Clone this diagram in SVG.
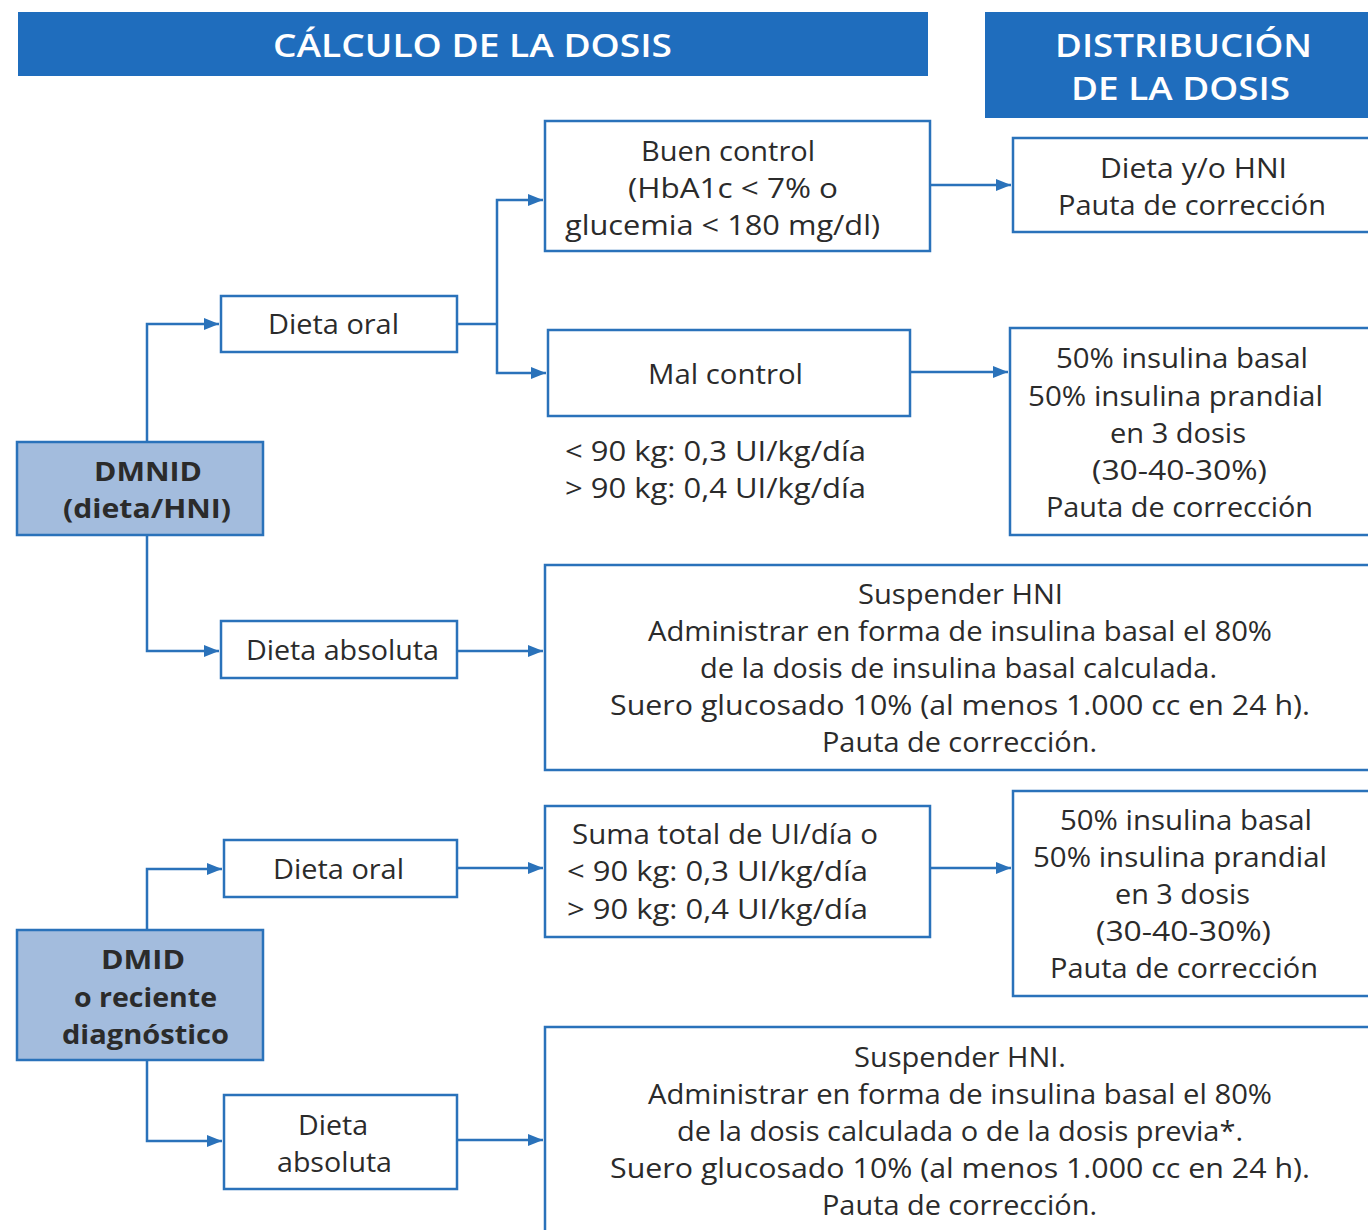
<svg xmlns="http://www.w3.org/2000/svg" width="1368" height="1230" viewBox="0 0 1368 1230">
  <style>
    .hdr { fill: #1f6dbd; }
    .hdrt { fill: #ffffff; font-family: "Open Sans", "Liberation Sans", sans-serif; font-size: 33px; font-weight: 600; }
    .box { fill: #ffffff; stroke: #2a72ba; stroke-width: 2.5; }
    .key { fill: #a3bcdd; stroke: #2a72ba; stroke-width: 2.5; }
    .t { fill: #2b2b2b; font-family: "Open Sans", "Liberation Sans", sans-serif; font-size: 27px; }
    .tb { fill: #2b2b2b; font-family: "Open Sans", "Liberation Sans", sans-serif; font-size: 27px; font-weight: 700; }
    .ln { fill: none; stroke: #2a72ba; stroke-width: 2.5; }
    .arr { fill: none; stroke: #2a72ba; stroke-width: 2.5; marker-end: url(#ah); }
  </style>
  <defs>
    <marker id="ah" viewBox="0 0 10 10" refX="10" refY="5" markerWidth="6" markerHeight="6" markerUnits="strokeWidth" orient="auto">
      <path d="M0,1 L10,5 L0,9 Z" fill="#2a72ba"/>
    </marker>
  </defs>
  <rect width="1368" height="1230" fill="#ffffff"/>

  <!-- column headers -->
  <g id="hdr-calculo">
    <rect class="hdr" x="18" y="12" width="910" height="64"/>
    <text class="hdrt" x="273" y="57" textLength="399" lengthAdjust="spacingAndGlyphs">CÁLCULO DE LA DOSIS</text>
  </g>
  <g id="hdr-distribucion">
    <rect class="hdr" x="985" y="12" width="383" height="106"/>
    <text class="hdrt" x="1055" y="57" textLength="257" lengthAdjust="spacingAndGlyphs">DISTRIBUCIÓN</text>
    <text class="hdrt" x="1071" y="100" textLength="219" lengthAdjust="spacingAndGlyphs">DE LA DOSIS</text>
  </g>

  <!-- connectors -->
  <g id="connectors">
    <!-- DMNID branches -->
    <path class="arr" d="M147,442 V324 H219"/>
    <path class="arr" d="M147,535 V651 H219"/>
    <!-- dieta oral split -->
    <path class="ln" d="M457,324 H497"/>
    <path class="arr" d="M497,324 V200 H543"/>
    <path class="arr" d="M497,324 V373 H546"/>
    <path class="arr" d="M930,185 H1011"/>
    <path class="arr" d="M910,372 H1008"/>
    <path class="arr" d="M457,651 H543"/>
    <!-- DMID branches -->
    <path class="arr" d="M147,930 V869 H222"/>
    <path class="arr" d="M147,1060 V1141 H222"/>
    <path class="arr" d="M457,868 H543"/>
    <path class="arr" d="M930,868 H1011"/>
    <path class="arr" d="M457,1140 H543"/>
  </g>

  <!-- DMNID branch -->
  <g id="n-dmnid">
    <rect class="key" x="17" y="442" width="246" height="93"/>
    <text class="tb" x="94" y="481" textLength="108" lengthAdjust="spacingAndGlyphs">DMNID</text>
    <text class="tb" x="63" y="518" textLength="168" lengthAdjust="spacingAndGlyphs">(dieta/HNI)</text>
  </g>
  <g id="n-dieta-oral-1">
    <rect class="box" x="221" y="296" width="236" height="56"/>
    <text class="t" x="268" y="334" textLength="131" lengthAdjust="spacingAndGlyphs">Dieta oral</text>
  </g>
  <g id="n-buen-control">
    <rect class="box" x="545" y="121" width="385" height="130"/>
    <text class="t" x="641" y="161" textLength="174" lengthAdjust="spacingAndGlyphs">Buen control</text>
    <text class="t" x="628" y="198" textLength="210" lengthAdjust="spacingAndGlyphs">(HbA1c &lt; 7% o</text>
    <text class="t" x="565" y="235" textLength="315" lengthAdjust="spacingAndGlyphs">glucemia &lt; 180 mg/dl)</text>
  </g>
  <g id="n-dieta-hni">
    <rect class="box" x="1013" y="138" width="360" height="94"/>
    <text class="t" x="1100" y="178" textLength="187" lengthAdjust="spacingAndGlyphs">Dieta y/o HNI</text>
    <text class="t" x="1058" y="215" textLength="268" lengthAdjust="spacingAndGlyphs">Pauta de corrección</text>
  </g>
  <g id="n-mal-control">
    <rect class="box" x="548" y="330" width="362" height="86"/>
    <text class="t" x="648" y="384" textLength="155" lengthAdjust="spacingAndGlyphs">Mal control</text>
    <text class="t" x="565" y="461" textLength="301" lengthAdjust="spacingAndGlyphs">&lt; 90 kg: 0,3 UI/kg/día</text>
    <text class="t" x="565" y="498" textLength="301" lengthAdjust="spacingAndGlyphs">&gt; 90 kg: 0,4 UI/kg/día</text>
  </g>
  <g id="n-basal-prandial-1">
    <rect class="box" x="1010" y="328" width="363" height="207"/>
    <text class="t" x="1056" y="368" textLength="252" lengthAdjust="spacingAndGlyphs">50% insulina basal</text>
    <text class="t" x="1028" y="406" textLength="295" lengthAdjust="spacingAndGlyphs">50% insulina prandial</text>
    <text class="t" x="1110" y="443" textLength="136" lengthAdjust="spacingAndGlyphs">en 3 dosis</text>
    <text class="t" x="1092" y="480" textLength="175" lengthAdjust="spacingAndGlyphs">(30-40-30%)</text>
    <text class="t" x="1046" y="517" textLength="267" lengthAdjust="spacingAndGlyphs">Pauta de corrección</text>
  </g>
  <g id="n-dieta-absoluta-1">
    <rect class="box" x="221" y="621" width="236" height="57"/>
    <text class="t" x="246" y="660" textLength="193" lengthAdjust="spacingAndGlyphs">Dieta absoluta</text>
  </g>
  <g id="n-suspender-1">
    <rect class="box" x="545" y="565" width="828" height="205"/>
    <text class="t" x="858" y="604" textLength="205" lengthAdjust="spacingAndGlyphs">Suspender HNI</text>
    <text class="t" x="648" y="641" textLength="624" lengthAdjust="spacingAndGlyphs">Administrar en forma de insulina basal el 80%</text>
    <text class="t" x="700" y="678" textLength="517" lengthAdjust="spacingAndGlyphs">de la dosis de insulina basal calculada.</text>
    <text class="t" x="610" y="715" textLength="700" lengthAdjust="spacingAndGlyphs">Suero glucosado 10% (al menos 1.000 cc en 24 h).</text>
    <text class="t" x="822" y="752" textLength="275" lengthAdjust="spacingAndGlyphs">Pauta de corrección.</text>
  </g>

  <!-- DMID branch -->
  <g id="n-dmid">
    <rect class="key" x="17" y="930" width="246" height="130"/>
    <text class="tb" x="101" y="969" textLength="84" lengthAdjust="spacingAndGlyphs">DMID</text>
    <text class="tb" x="74" y="1007" textLength="143" lengthAdjust="spacingAndGlyphs">o reciente</text>
    <text class="tb" x="62" y="1044" textLength="167" lengthAdjust="spacingAndGlyphs">diagnóstico</text>
  </g>
  <g id="n-dieta-oral-2">
    <rect class="box" x="224" y="840" width="233" height="57"/>
    <text class="t" x="273" y="879" textLength="131" lengthAdjust="spacingAndGlyphs">Dieta oral</text>
  </g>
  <g id="n-suma-total">
    <rect class="box" x="545" y="806" width="385" height="131"/>
    <text class="t" x="572" y="844" textLength="306" lengthAdjust="spacingAndGlyphs">Suma total de UI/día o</text>
    <text class="t" x="567" y="881" textLength="301" lengthAdjust="spacingAndGlyphs">&lt; 90 kg: 0,3 UI/kg/día</text>
    <text class="t" x="567" y="919" textLength="301" lengthAdjust="spacingAndGlyphs">&gt; 90 kg: 0,4 UI/kg/día</text>
  </g>
  <g id="n-basal-prandial-2">
    <rect class="box" x="1013" y="791" width="360" height="205"/>
    <text class="t" x="1060" y="830" textLength="252" lengthAdjust="spacingAndGlyphs">50% insulina basal</text>
    <text class="t" x="1033" y="867" textLength="294" lengthAdjust="spacingAndGlyphs">50% insulina prandial</text>
    <text class="t" x="1115" y="904" textLength="135" lengthAdjust="spacingAndGlyphs">en 3 dosis</text>
    <text class="t" x="1096" y="941" textLength="175" lengthAdjust="spacingAndGlyphs">(30-40-30%)</text>
    <text class="t" x="1050" y="978" textLength="268" lengthAdjust="spacingAndGlyphs">Pauta de corrección</text>
  </g>
  <g id="n-dieta-absoluta-2">
    <rect class="box" x="224" y="1095" width="233" height="94"/>
    <text class="t" x="298" y="1135" textLength="70" lengthAdjust="spacingAndGlyphs">Dieta</text>
    <text class="t" x="277" y="1172" textLength="115" lengthAdjust="spacingAndGlyphs">absoluta</text>
  </g>
  <g id="n-suspender-2">
    <rect class="box" x="545" y="1027" width="828" height="210"/>
    <text class="t" x="854" y="1067" textLength="212" lengthAdjust="spacingAndGlyphs">Suspender HNI.</text>
    <text class="t" x="648" y="1104" textLength="624" lengthAdjust="spacingAndGlyphs">Administrar en forma de insulina basal el 80%</text>
    <text class="t" x="677" y="1141" textLength="566" lengthAdjust="spacingAndGlyphs">de la dosis calculada o de la dosis previa*.</text>
    <text class="t" x="610" y="1178" textLength="700" lengthAdjust="spacingAndGlyphs">Suero glucosado 10% (al menos 1.000 cc en 24 h).</text>
    <text class="t" x="822" y="1215" textLength="275" lengthAdjust="spacingAndGlyphs">Pauta de corrección.</text>
  </g>
</svg>
